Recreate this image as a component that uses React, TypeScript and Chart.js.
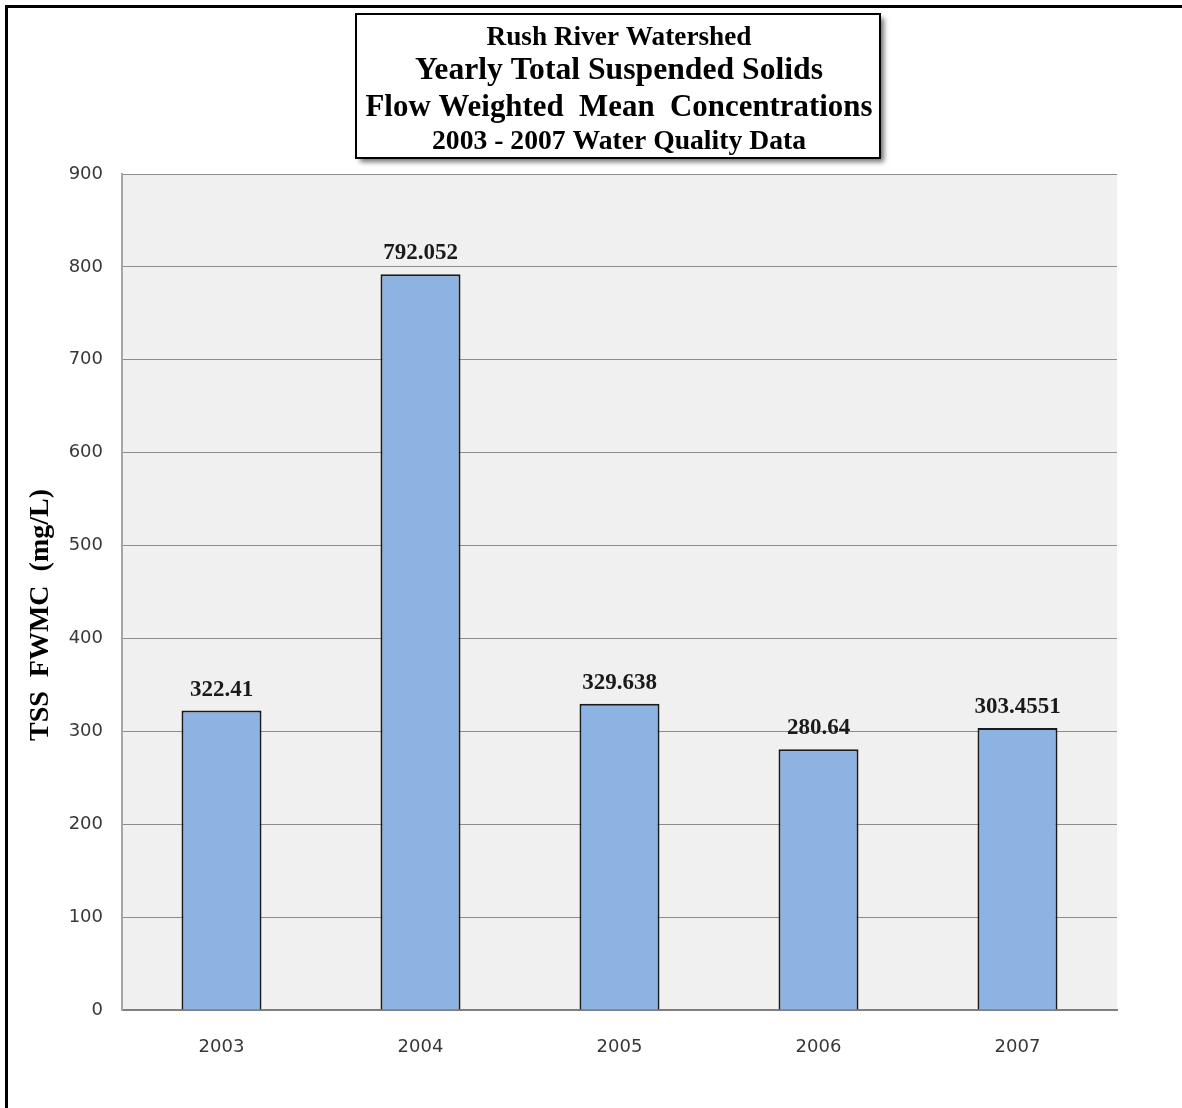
import React, { useEffect, useRef } from "react";
import { Chart, registerables } from "chart.js";

Chart.register(...registerables);

const categories = ["2003", "2004", "2005", "2006", "2007"];
const tssValues = [322.41, 792.052, 329.638, 280.64, 303.4551];
const valueLabels = ["322.41", "792.052", "329.638", "280.64", "303.4551"];
const titleLines = [
  "Rush River Watershed",
  "Yearly Total Suspended Solids",
  "Flow Weighted  Mean  Concentrations",
  "2003 - 2007 Water Quality Data",
];
const yAxisTitle = "TSS  FWMC  (mg/L)";
const yMin = 0;
const yMax = 900;
const yStep = 100;

const W = 1182;
const H = 1108;

const decorPlugin = {
  id: "decor",
  beforeDraw(chart: any) {
    const { ctx, chartArea } = chart;
    ctx.save();
    ctx.fillStyle = "#ffffff";
    ctx.fillRect(0, 0, W, H);
    ctx.fillStyle = "#f0f0f0";
    ctx.fillRect(chartArea.left, chartArea.top, chartArea.right - chartArea.left, chartArea.bottom - chartArea.top);
    ctx.restore();
  },
  afterDraw(chart: any) {
    const { ctx } = chart;
    ctx.save();
    // outer frame (top + left)
    ctx.fillStyle = "#000000";
    ctx.fillRect(5, 5, W, 3);
    ctx.fillRect(5, 5, 3, H);

    // title box with shadow
    const bx = 356, by = 14, bw = 524, bh = 144;
    ctx.save();
    ctx.shadowColor = "rgba(0,0,0,0.55)";
    ctx.shadowBlur = 5;
    ctx.shadowOffsetX = 4;
    ctx.shadowOffsetY = 4;
    ctx.fillStyle = "#ffffff";
    ctx.fillRect(bx, by, bw, bh);
    ctx.restore();
    ctx.strokeStyle = "#000000";
    ctx.lineWidth = 2;
    ctx.strokeRect(bx, by, bw, bh);

    const cx = 619;
    const baselines = [45, 79, 116, 149];
    const sizes = [28, 32, 32, 28];
    const widths = [265, 408, 507, 374];
    ctx.fillStyle = "#000000";
    ctx.textAlign = "center";
    ctx.textBaseline = "alphabetic";
    titleLines.forEach((line, i) => {
      ctx.font = `bold ${sizes[i]}px "Liberation Serif", "Times New Roman", serif`;
      ctx.fillText(line, cx, baselines[i], widths[i]);
    });

    // y axis title
    ctx.save();
    ctx.translate(41, 615);
    ctx.rotate(-Math.PI / 2);
    ctx.font = `bold 28px "Liberation Serif", "Times New Roman", serif`;
    ctx.textAlign = "center";
    ctx.textBaseline = "middle";
    ctx.fillStyle = "#000000";
    ctx.fillText(yAxisTitle, 0, 0, 255);
    ctx.restore();

    // value labels
    const meta = chart.getDatasetMeta(0);
    ctx.font = `bold 23px "Liberation Serif", "Times New Roman", serif`;
    ctx.fillStyle = "#1a1a1a";
    ctx.textAlign = "center";
    ctx.textBaseline = "alphabetic";
    meta.data.forEach((bar: any, i: number) => {
      ctx.fillText(valueLabels[i], bar.x, bar.y - 15);
    });
    ctx.restore();
  },
};

export default function App() {
  const canvasRef = useRef<HTMLCanvasElement | null>(null);

  useEffect(() => {
    if (!canvasRef.current) return;
    const chart = new Chart(canvasRef.current, {
      type: "bar",
      data: {
        labels: categories,
        datasets: [
          {
            label: "TSS FWMC",
            data: tssValues,
            backgroundColor: "#8db3e2",
            borderColor: "#1a1a1a",
            borderWidth: 2,
            barPercentage: 0.402,
            categoryPercentage: 1,
          },
        ],
      },
      options: {
        responsive: false,
        animation: false,
        devicePixelRatio: 1,
        layout: { padding: { top: 174, right: 65, left: 0, bottom: 0 } },
        plugins: {
          legend: { display: false },
          title: { display: false },
          tooltip: { enabled: false },
        },
        scales: {
          x: {
            grid: { display: false, drawTicks: false },
            border: { display: true, color: "#808080", width: 2 },
            ticks: {
              color: "#383838",
              font: { family: '"DejaVu Sans", sans-serif', size: 18 },
              padding: 27,
            },
            afterFit: (scale: any) => {
              scale.height = 98;
            },
          },
          y: {
            min: yMin,
            max: yMax,
            grid: { color: "#8c8c8c", lineWidth: 1, drawTicks: false },
            border: { display: true, color: "#a6a6a6", width: 2 },
            ticks: {
              stepSize: yStep,
              color: "#383838",
              font: { family: '"DejaVu Sans", sans-serif', size: 18 },
              padding: 19,
            },
            afterFit: (scale: any) => {
              scale.width = 122;
            },
          },
        },
      },
      plugins: [decorPlugin],
    });
    return () => chart.destroy();
  }, []);

  return (
    <div style={{ position: "absolute", left: 0, top: 0, width: W, height: H, background: "#fff" }}>
      <canvas ref={canvasRef} width={W} height={H} style={{ display: "block", width: W, height: H }} />
    </div>
  );
}
